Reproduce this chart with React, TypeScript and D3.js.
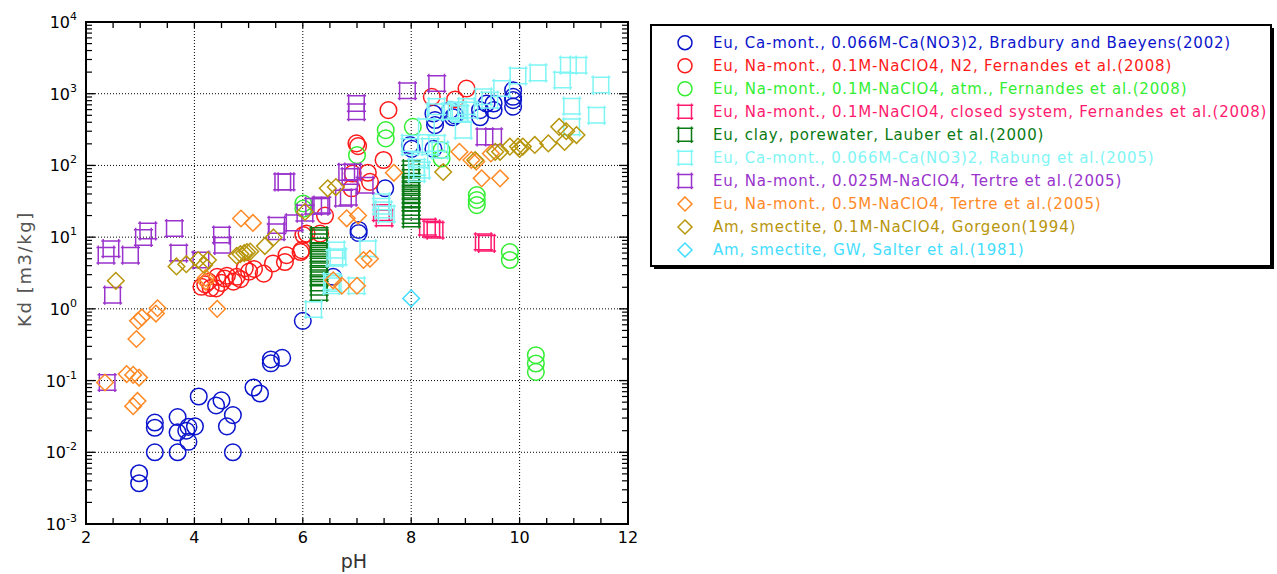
import React from 'react'
import * as d3 from 'd3'

// [pH, Kd (m3/kg)]
const bradbury: [number, number][] = [
  [2.98, 0.0051], [2.98, 0.0037], [3.27, 0.01], [3.27, 0.026], [3.27, 0.022],
  [3.69, 0.031], [3.69, 0.019], [3.69, 0.01], [3.85, 0.02], [3.89, 0.014],
  [3.89, 0.0226], [4.01, 0.023], [4.08, 0.06], [4.4, 0.045], [4.5, 0.053],
  [4.6, 0.023], [4.71, 0.033], [4.71, 0.01], [5.09, 0.08], [5.21, 0.066],
  [5.41, 0.197], [5.41, 0.174], [5.62, 0.207], [6.0, 0.68], [6.56, 2.8],
  [7.03, 12.6], [7.03, 11.4], [7.52, 48], [7.98, 192], [8.01, 170], [8.41, 170],
  [8.41, 530], [8.44, 430], [8.44, 365], [8.72, 590], [8.81, 500], [8.77, 470],
  [9.27, 590], [9.27, 470], [9.39, 730], [9.52, 590], [9.52, 730],
  [9.88, 1120], [9.88, 905], [9.88, 815], [9.88, 660]
]
const fernandesN2: [number, number][] = [
  [4.13, 2.03], [4.2, 2.2], [4.26, 2.4], [4.3, 1.95], [4.4, 1.93], [4.42, 2.8],
  [4.5, 2.3], [4.56, 2.65], [4.6, 2.9], [4.72, 2.4], [4.78, 2.8], [4.85, 2.6],
  [4.93, 3.7], [5.01, 3.3], [5.1, 3.6], [5.28, 3.1], [5.45, 4.3], [5.67, 4.5],
  [5.7, 5.6], [5.96, 6.2], [5.98, 6.6], [6.01, 10.7], [6.07, 11.2], [6.32, 11.2],
  [6.41, 20], [6.9, 48], [6.92, 77], [7.2, 79], [7.24, 59], [6.99, 203],
  [7.02, 186], [7.49, 119], [7.58, 590], [8.38, 905], [8.81, 830], [9.02, 1180]
]
const fernandesAtm: [number, number][] = [
  [6.01, 29.5], [6.01, 25], [7.0, 139], [7.53, 311], [7.53, 238], [8.03, 345],
  [8.56, 163], [8.56, 125], [9.21, 38.6], [9.21, 33], [9.21, 28], [9.82, 6.2],
  [9.82, 4.8], [10.3, 0.226], [10.3, 0.173], [10.3, 0.132]
]
const fernandesClosed: [number, number][] = [
  [7.45, 22], [7.5, 18.5], [8.3, 13.8], [8.38, 13], [8.44, 12.5], [9.33, 8.6], [9.39, 8.2]
]
const lauber: [number, number][] = [
  [6.3, 1.7], [6.3, 2.0], [6.3, 2.3], [6.3, 2.7], [6.3, 3.1], [6.3, 3.6], [6.3, 4.2],
  [6.3, 4.9], [6.3, 5.6], [6.3, 6.5], [6.3, 7.5], [6.3, 8.6], [6.3, 9.8], [6.3, 10.5],
  [8.0, 18], [8.0, 20], [8.0, 23], [8.0, 26], [8.0, 30], [8.0, 34], [8.0, 39],
  [8.0, 45], [8.0, 52], [8.0, 60], [8.0, 68], [8.0, 78], [8.0, 90]
]
const rabung: [number, number][] = [
  [6.2, 0.98], [6.53, 2.1], [6.53, 2.4], [6.56, 2.26], [6.59, 5.1], [6.62, 6.6],
  [6.65, 5.3], [6.99, 2.1], [7.2, 6.9], [7.45, 31], [7.45, 27], [7.49, 24],
  [7.54, 21], [7.98, 203], [7.98, 183], [8.1, 94], [8.19, 86], [8.16, 119],
  [8.1, 77], [8.28, 345], [8.35, 183], [8.47, 203], [8.53, 163], [8.44, 560],
  [8.47, 660], [8.72, 560], [8.83, 590], [8.9, 530], [8.87, 590], [8.96, 311],
  [9.02, 660], [9.08, 590], [9.33, 905], [9.45, 815], [9.67, 1180], [9.97, 1770],
  [10.34, 1950], [10.79, 1550], [10.9, 2500], [11.08, 2500], [11.5, 1320],
  [10.96, 670], [11.42, 500], [10.96, 345]
]
const tertre025: [number, number][] = [
  [2.39, 0.094], [2.49, 1.55], [2.37, 5.6], [2.46, 6.9], [2.82, 5.6], [3.06, 9.9],
  [3.14, 12.2], [3.63, 13.2], [3.71, 6.0], [4.12, 4.8], [4.5, 10.7], [4.52, 7.7],
  [5.51, 11.9], [5.52, 14.6], [5.63, 59], [5.69, 59], [5.84, 15.8], [6.04, 21.6],
  [6.2, 27], [6.32, 27], [6.35, 28], [6.75, 35], [6.84, 36], [6.81, 80], [6.87, 70],
  [6.92, 81], [7.15, 53], [6.99, 730], [6.99, 560], [7.93, 1100], [8.47, 1390],
  [9.36, 250], [9.52, 250]
]
const tertre05: [number, number][] = [
  [2.35, 0.094], [2.75, 0.123], [2.87, 0.12], [2.98, 0.11], [2.95, 0.052],
  [2.87, 0.044], [2.93, 0.38], [2.96, 0.68], [3.03, 0.76], [3.29, 0.86],
  [3.32, 1.02], [4.42, 1.0], [4.21, 2.7], [4.21, 2.4], [4.86, 18.2], [5.08, 15.8],
  [6.56, 2.5], [6.72, 2.1], [7.0, 2.1], [7.12, 4.8], [7.24, 5.0], [6.81, 18.3],
  [7.02, 20], [7.68, 79], [8.89, 155], [9.11, 119], [9.2, 113], [9.47, 147],
  [9.3, 66], [9.64, 66]
]
const gorgeon: [number, number][] = [
  [2.55, 2.46], [3.67, 3.9], [3.85, 4.2], [4.07, 4.8], [4.18, 4.1], [4.25, 4.8],
  [4.78, 5.5], [4.85, 5.8], [4.92, 6.0], [4.97, 6.2], [5.03, 6.3], [5.3, 7.5],
  [5.46, 9.9], [6.04, 22.5], [6.46, 48], [6.61, 50], [8.59, 81], [9.18, 119],
  [9.55, 155], [9.64, 155], [9.82, 183], [9.97, 183], [10.0, 170], [10.06, 183],
  [10.28, 193], [10.53, 203], [10.73, 345], [10.83, 213], [10.86, 300], [11.05, 265]
]
const salter: [number, number][] = [[8.0, 1.4]]

const labels = [
  'Eu, Ca-mont., 0.066M-Ca(NO3)2, Bradbury and Baeyens(2002)',
  'Eu, Na-mont., 0.1M-NaClO4, N2, Fernandes et al.(2008)',
  'Eu, Na-mont., 0.1M-NaClO4, atm., Fernandes et al.(2008)',
  'Eu, Na-mont., 0.1M-NaClO4, closed system, Fernandes et al.(2008)',
  'Eu, clay, porewater, Lauber et al.(2000)',
  'Eu, Ca-mont., 0.066M-Ca(NO3)2, Rabung et al.(2005)',
  'Eu, Na-mont., 0.025M-NaClO4, Tertre et al.(2005)',
  'Eu, Na-mont., 0.5M-NaClO4, Tertre et al.(2005)',
  'Am, smectite, 0.1M-NaClO4, Gorgeon(1994)',
  'Am, smectite, GW, Salter et al.(1981)'
]
const colors = ['#0a14cc', '#ff1a1a', '#33ee33', '#ff1a6e', '#0a7a14', '#7ff5f5', '#9933cc', '#ff8a26', '#b8960c', '#44ddff']
const shapes = ['circle', 'circle', 'circle', 'square', 'square', 'square', 'square', 'diamond', 'diamond', 'diamond']
const seriesData = [bradbury, fernandesN2, fernandesAtm, fernandesClosed, lauber, rabung, tertre025, tertre05, gorgeon, salter]

const xTicks = [2, 4, 6, 8, 10, 12]
const yExps = [-3, -2, -1, 0, 1, 2, 3, 4]

const FONT = '"DejaVu Sans", sans-serif'

function Marker({ shape, x, y, color, r }: { shape: string, x: number, y: number, color: string, r: number }) {
  if (shape === 'circle') {
    return <circle cx={x} cy={y} r={r} fill="none" stroke={color} strokeWidth={1.5} />
  }
  if (shape === 'square') {
    const h = r - 0.5
    const e = 1.8
    const d = `M${x - h - e},${y - h}H${x + h + e}M${x - h - e},${y + h}H${x + h + e}` +
      `M${x - h},${y - h - e}V${y + h + e}M${x + h},${y - h - e}V${y + h + e}`
    return <path d={d} fill="none" stroke={color} strokeWidth={1.5} />
  }
  const d = `M${x},${y - r}L${x + r},${y}L${x},${y + r}L${x - r},${y}Z`
  return <path d={d} fill="none" stroke={color} strokeWidth={1.5} />
}

export default function App() {
  const width = 1277
  const height = 574
  const left = 86, right = 628, top = 22, bottom = 524

  const x = d3.scaleLinear().domain([2, 12]).range([left, right])
  const y = d3.scaleLog().domain([1e-3, 1e4]).range([bottom, top])

  const xMinor = d3.range(2, 12.01, 0.5)
  const yMinor: number[] = []
  for (let e = -3; e < 4; e++) {
    for (let m = 2; m <= 9; m++) yMinor.push(m * Math.pow(10, e))
  }

  const legX = 651, legY = 25, legW = 620, legH = 241
  const rowY = (i: number) => 42.7 + i * 23.03

  return (
    <svg width={width} height={height} style={{ position: 'absolute', left: 0, top: 0, background: '#fff' }}
      fontFamily={FONT}>
      <rect x={0} y={0} width={width} height={height} fill="#fff" />

      {/* grid */}
      {xTicks.slice(1, -1).map(t => (
        <line key={'gx' + t} x1={x(t)} x2={x(t)} y1={top} y2={bottom} stroke="#000" strokeWidth={1} strokeDasharray="1,2" />
      ))}
      {yExps.slice(1, -1).map(e => (
        <line key={'gy' + e} x1={left} x2={right} y1={y(Math.pow(10, e))} y2={y(Math.pow(10, e))} stroke="#000" strokeWidth={1} strokeDasharray="1,2" />
      ))}

      {/* ticks */}
      {xMinor.map(t => (
        <g key={'tx' + t}>
          <line x1={x(t)} x2={x(t)} y1={bottom} y2={bottom - 6} stroke="#000" strokeWidth={1.3} />
          <line x1={x(t)} x2={x(t)} y1={top} y2={top + 6} stroke="#000" strokeWidth={1.3} />
        </g>
      ))}
      {yMinor.map(v => (
        <g key={'ty' + v}>
          <line x1={left} x2={left + 6} y1={y(v)} y2={y(v)} stroke="#000" strokeWidth={1.2} />
          <line x1={right} x2={right - 6} y1={y(v)} y2={y(v)} stroke="#000" strokeWidth={1.2} />
        </g>
      ))}
      {yExps.map(e => (
        <g key={'tyM' + e}>
          <line x1={left} x2={left + 9} y1={y(Math.pow(10, e))} y2={y(Math.pow(10, e))} stroke="#000" strokeWidth={1.3} />
          <line x1={right} x2={right - 9} y1={y(Math.pow(10, e))} y2={y(Math.pow(10, e))} stroke="#000" strokeWidth={1.3} />
        </g>
      ))}

      {/* data */}
      {seriesData.map((s, i) => (
        <g key={'s' + i}>
          {s.map((p, j) => (
            <Marker key={j} shape={shapes[i]} x={x(p[0])} y={y(p[1])} color={colors[i]} r={8.3} />
          ))}
        </g>
      ))}

      {/* frame */}
      <rect x={left} y={top} width={right - left} height={bottom - top} fill="none" stroke="#000" strokeWidth={2} />

      {/* tick labels */}
      {xTicks.map(t => (
        <text key={'lx' + t} x={x(t)} y={543} textAnchor="middle" fontSize={16} fill="#000">{t}</text>
      ))}
      {yExps.map(e => (
        <text key={'ly' + e} x={77} y={y(Math.pow(10, e)) + 6} textAnchor="end" fontSize={16} fill="#000">
          10<tspan dy={-8} fontSize={11}>{e}</tspan>
        </text>
      ))}

      {/* axis titles */}
      <text x={354} y={568} textAnchor="middle" fontSize={19} fill="#333">pH</text>
      <text transform={`translate(31,269) rotate(-90)`} textAnchor="middle" fontSize={18} letterSpacing={1.6} fill="#555">Kd [m3/kg]</text>

      {/* legend */}
      <rect x={legX + 3} y={legY + 3} width={legW} height={legH} fill="#000" />
      <rect x={legX} y={legY} width={legW} height={legH} fill="#fff" stroke="#000" strokeWidth={2} />
      {labels.map((l, i) => (
        <g key={'lg' + i}>
          <Marker shape={shapes[i]} x={685} y={rowY(i)} color={colors[i]} r={7} />
          <text x={713} y={rowY(i) + 5.5} fontSize={15} letterSpacing={0.8} fill={colors[i]}>{l}</text>
        </g>
      ))}
    </svg>
  )
}
